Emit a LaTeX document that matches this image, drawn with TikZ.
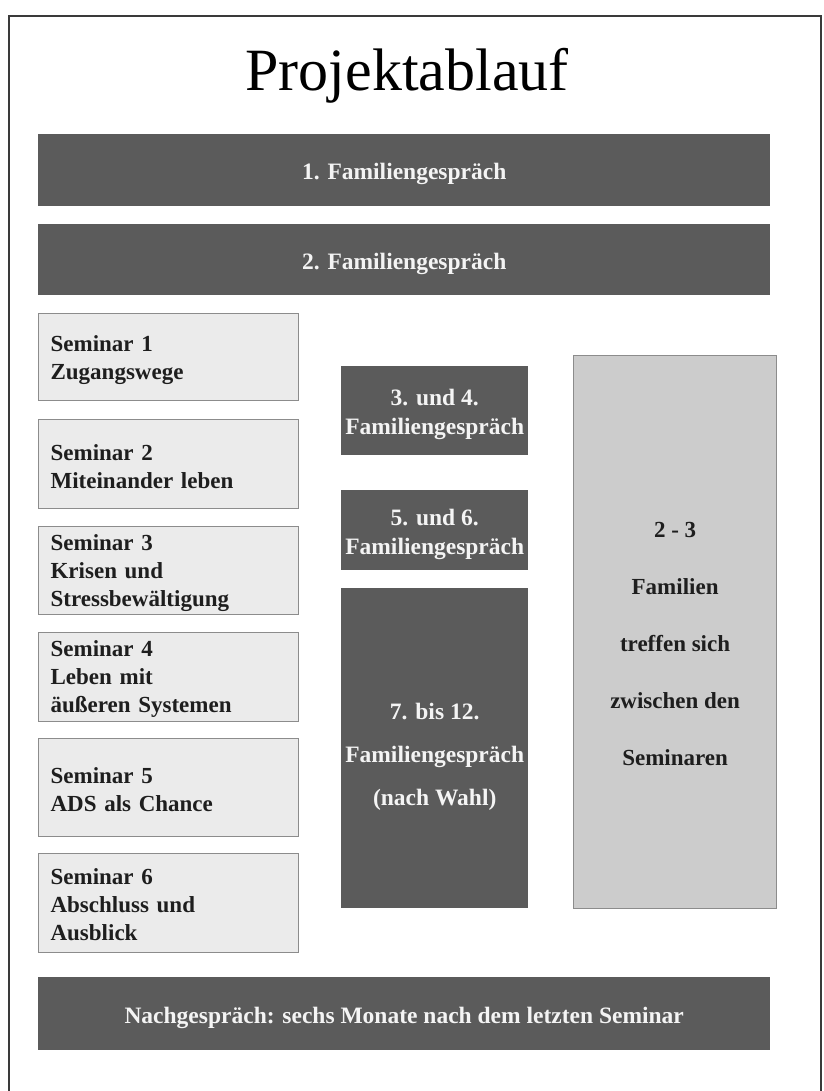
\documentclass[tikz,border=0pt]{standalone}
\usepackage{fontspec}
\setmainfont{Liberation Serif}
\definecolor{darkbox}{HTML}{5B5B5B}
\definecolor{lightbox}{HTML}{EBEBEB}
\definecolor{rightbox}{HTML}{CCCCCC}
\definecolor{boxedge}{HTML}{8C8C8C}
\definecolor{frameline}{HTML}{3A3A3A}
\definecolor{whitetext}{HTML}{F4F4F4}
\definecolor{darktext}{HTML}{1E1E1E}
\begin{document}
\begin{tikzpicture}[x=1pt,y=-1pt,
  darkbar/.style={fill=darkbox, draw=none, anchor=north west, inner sep=0pt},
  semibox/.style={fill=lightbox, draw=boxedge, line width=1.2pt, anchor=north west,
    inner sep=0pt, minimum width=260pt},
  sidebox/.style={fill=rightbox, draw=boxedge, line width=1.2pt, anchor=north west,
    inner sep=0pt},
  whitelbl/.style={text=whitetext, align=center, inner sep=0pt,
    font=\bfseries\fontsize{23.5}{29}\selectfont},
  semilbl/.style={text=darktext, align=left, inner sep=0pt, text width=236pt,
    font=\bfseries\fontsize{23}{28}\selectfont},
  sidelbl/.style={text=darktext, align=center, inner sep=0pt,
    font=\bfseries\fontsize{23}{57}\selectfont}
]
\useasboundingbox (0,0) rectangle (823,1091);
\fill[white] (0,0) rectangle (823,1091);
% frame
\draw[frameline, line width=1.3pt] (9,1091) -- (9,16) -- (821,16) -- (821,1091);
% title
\node[anchor=base, font=\fontsize{60}{70}\selectfont, text=black] (title) at (407,91) {Projektablauf};
% bars
\node[darkbar, minimum width=732pt, minimum height=72pt] (b1) at (38,134) {};
\node[whitelbl] (b1t) at ([yshift=-4pt]b1.center) {1. Familiengespräch};
\node[darkbar, minimum width=732pt, minimum height=71pt] (b2) at (38,224) {};
\node[whitelbl] (b2t) at ([yshift=-4pt]b2.center) {2. Familiengespräch};
% seminars
\node[semibox, minimum height=87pt] (s1) at (38,313) {};
\node[semilbl] (s1t) at ([yshift=-3pt]s1.center) {Seminar 1\\Zugangswege};
\node[semibox, minimum height=89pt] (s2) at (38,419) {};
\node[semilbl] (s2t) at ([yshift=-3pt]s2.center) {Seminar 2\\Miteinander leben};
\node[semibox, minimum height=88pt] (s3) at (38,526) {};
\node[semilbl] (s3t) at ([yshift=-2pt]s3.center) {Seminar 3\\Krisen und\\Stressbewältigung};
\node[semibox, minimum height=89pt] (s4) at (38,632) {};
\node[semilbl] (s4t) at ([yshift=-2pt]s4.center) {Seminar 4\\Leben mit\\äußeren Systemen};
\node[semibox, minimum height=98pt] (s5) at (38,738) {};
\node[semilbl] (s5t) at ([yshift=-2pt]s5.center) {Seminar 5\\ADS als Chance};
\node[semibox, minimum height=99pt] (s6) at (38,853) {};
\node[semilbl] (s6t) at ([yshift=-2pt]s6.center) {Seminar 6\\Abschluss und\\Ausblick};
% middle
\node[darkbar, minimum width=187pt, minimum height=89pt] (m1) at (341,366) {};
\node[whitelbl] (m1t) at ([yshift=-4pt]m1.center) {3. und 4.\\Familiengespräch};
\node[darkbar, minimum width=187pt, minimum height=80pt] (m2) at (341,490) {};
\node[whitelbl] (m2t) at ([yshift=-4pt]m2.center) {5. und 6.\\Familiengespräch};
\node[darkbar, minimum width=187pt, minimum height=320pt] (m3) at (341,588) {};
\node[whitelbl, font=\bfseries\fontsize{23.5}{43}\selectfont] (m3t) at ([yshift=-9pt]m3.center) {7. bis 12.\\Familiengespräch\\(nach Wahl)};
% right
\node[sidebox, minimum width=203pt, minimum height=553pt] (r) at (573,355) {};
\node[sidelbl] (rt) at ([yshift=-12pt]r.center) {2 - 3\\Familien\\treffen sich\\zwischen den\\Seminaren};
% bottom
\node[darkbar, minimum width=732pt, minimum height=73pt] (b3) at (38,977) {};
\node[whitelbl] (b3t) at ([yshift=-4pt]b3.center) {Nachgespräch: sechs Monate nach dem letzten Seminar};
\end{tikzpicture}
\end{document}
